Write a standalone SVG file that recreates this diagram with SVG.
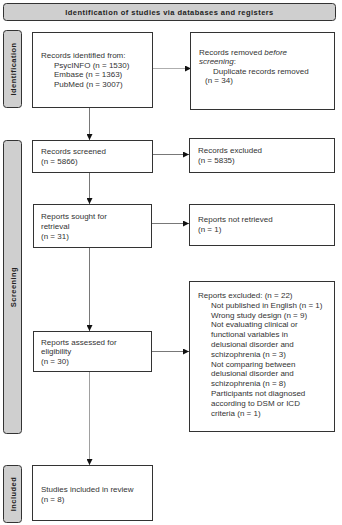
<svg xmlns="http://www.w3.org/2000/svg" width="342" height="525" viewBox="0 0 342 525">
<style>
.bg{fill:#ffffff}
.box{fill:#ffffff;stroke:#333333;stroke-width:1}
.bar{fill:#cfcfcf;stroke:#333333;stroke-width:1}
.t{font-family:"Liberation Sans",Arial,sans-serif;font-size:8px;fill:#333333}
.h{font-family:"Liberation Sans",Arial,sans-serif;font-size:7.5px;font-weight:bold;fill:#222222;letter-spacing:0.45px}
.c{stroke:#555555;stroke-width:0.8;fill:none}
</style>
<defs>
<marker id="ah" viewBox="0 0 6 6" refX="6" refY="3" markerWidth="6" markerHeight="6" orient="auto" markerUnits="userSpaceOnUse">
<path d="M0,0 L6,3 L0,6 z" fill="#111111"/>
</marker>
</defs>
<rect class="bg" x="0" y="0" width="342" height="525"/>
<g id="header">
<rect class="bar" x="3.5" y="3.5" width="332" height="17" rx="3"/>
<text class="h" x="169.5" y="14.5" text-anchor="middle">Identification of studies via databases and registers</text>
</g>
<g id="bar-identification">
<rect class="bar" x="3.5" y="30.5" width="18" height="77" rx="3"/>
<text class="h" transform="translate(15.5,69) rotate(-90)" text-anchor="middle">Identification</text>
</g>
<g id="bar-screening">
<rect class="bar" x="3.5" y="140.5" width="18" height="293" rx="3"/>
<text class="h" transform="translate(15.5,287) rotate(-90)" text-anchor="middle">Screening</text>
</g>
<g id="bar-included">
<rect class="bar" x="3.5" y="465.5" width="18" height="57" rx="3"/>
<text class="h" transform="translate(15.5,494) rotate(-90)" text-anchor="middle">Included</text>
</g>
<g id="connectors">
<line class="c" x1="152" y1="68.5" x2="191" y2="68.5" marker-end="url(#ah)" style="stroke:#999999"/>
<line class="c" x1="89.5" y1="107" x2="89.5" y2="140" marker-end="url(#ah)"/>
<line class="c" x1="152" y1="154.5" x2="189" y2="154.5" marker-end="url(#ah)"/>
<line class="c" x1="89.5" y1="172" x2="89.5" y2="204" marker-end="url(#ah)"/>
<line class="c" x1="152" y1="223.5" x2="189" y2="223.5" marker-end="url(#ah)"/>
<line class="c" x1="89.5" y1="247" x2="89.5" y2="331" marker-end="url(#ah)"/>
<line class="c" x1="152" y1="351.5" x2="189" y2="351.5" marker-end="url(#ah)"/>
<line class="c" x1="89.5" y1="371" x2="89.5" y2="465" marker-end="url(#ah)" style="stroke:#888888"/>
</g>
<g id="n-identified">
<rect class="box" x="32.5" y="32.5" width="120" height="75"/>
<text class="t" x="41" y="58">Records identified from:</text>
<text class="t" x="54" y="67.5">PsycINFO (n = 1530)</text>
<text class="t" x="54" y="77">Embase (n = 1363)</text>
<text class="t" x="54" y="86.5">PubMed (n = 3007)</text>
</g>
<g id="n-removed">
<rect class="box" x="190.5" y="32.5" width="144" height="77"/>
<text class="t" x="199" y="54.5">Records removed <tspan font-style="italic">before</tspan></text>
<text class="t" x="199" y="64" font-style="italic">screening<tspan font-style="normal">:</tspan></text>
<text class="t" x="213" y="73.5">Duplicate records removed</text>
<text class="t" x="205" y="83">(n = 34)</text>
</g>
<g id="n-screened">
<rect class="box" x="32.5" y="140.5" width="120" height="32"/>
<text class="t" x="41" y="154">Records screened</text>
<text class="t" x="41" y="164">(n = 5866)</text>
</g>
<g id="n-excluded">
<rect class="box" x="189.5" y="138.5" width="145" height="34"/>
<text class="t" x="198" y="153">Records excluded</text>
<text class="t" x="198" y="163">(n = 5835)</text>
</g>
<g id="n-sought">
<rect class="box" x="33.5" y="204.5" width="118" height="43"/>
<text class="t" x="41" y="218.5">Reports sought for</text>
<text class="t" x="41" y="228.5">retrieval</text>
<text class="t" x="41" y="239">(n = 31)</text>
</g>
<g id="n-notretrieved">
<rect class="box" x="189.5" y="204.5" width="145" height="41"/>
<text class="t" x="198" y="221.5">Reports not retrieved</text>
<text class="t" x="198" y="231.5">(n = 1)</text>
</g>
<g id="n-assessed">
<rect class="box" x="33.5" y="331.5" width="118" height="40"/>
<text class="t" x="41" y="344.5">Reports assessed for</text>
<text class="t" x="41" y="354">eligibility</text>
<text class="t" x="41" y="364">(n = 30)</text>
</g>
<g id="n-reportsexcluded">
<rect class="box" x="189.5" y="281.5" width="145" height="150"/>
<text class="t" x="198" y="298">Reports excluded: (n = 22)</text>
<text class="t" x="211" y="307.8">Not published in English (n = 1)</text>
<text class="t" x="211" y="317.6">Wrong study design (n = 9)</text>
<text class="t" x="211" y="327.4">Not evaluating clinical or</text>
<text class="t" x="211" y="337.2">functional variables in</text>
<text class="t" x="211" y="347">delusional disorder and</text>
<text class="t" x="211" y="356.8">schizophrenia (n = 3)</text>
<text class="t" x="211" y="366.6">Not comparing between</text>
<text class="t" x="211" y="376.4">delusional disorder and</text>
<text class="t" x="211" y="386.2">schizophrenia (n = 8)</text>
<text class="t" x="211" y="396">Participants not diagnosed</text>
<text class="t" x="211" y="405.8">according to DSM or ICD</text>
<text class="t" x="211" y="415.6">criteria (n = 1)</text>
</g>
<g id="n-included">
<rect class="box" x="32.5" y="465.5" width="120" height="55"/>
<text class="t" x="41" y="491.5">Studies included in review</text>
<text class="t" x="41" y="501.5">(n = 8)</text>
</g>
</svg>
